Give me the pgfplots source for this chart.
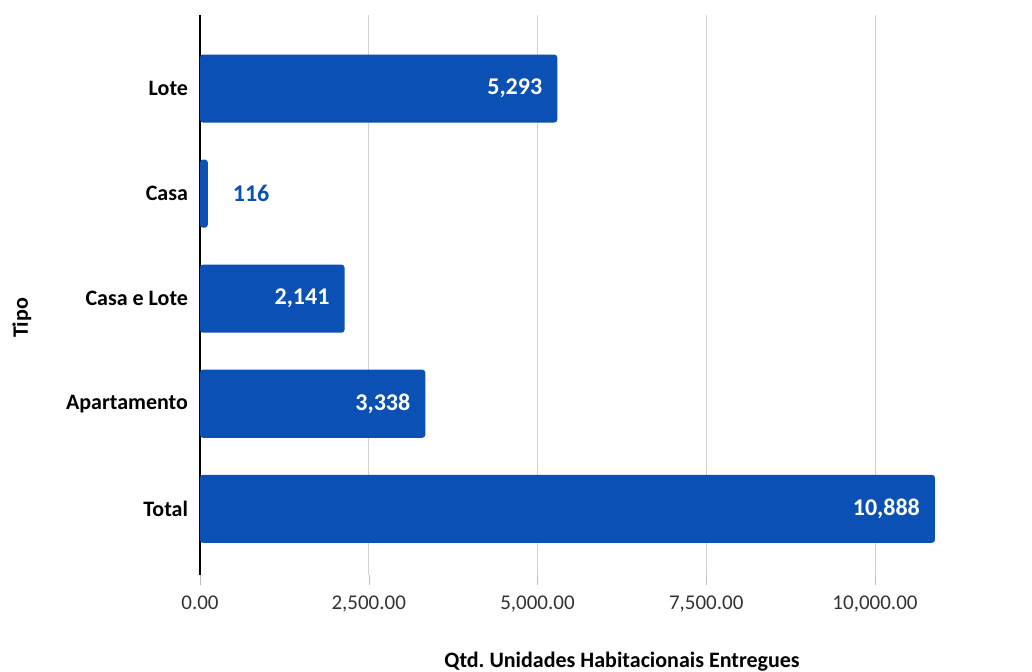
\documentclass[border=0pt]{standalone}
\usepackage{pgfplots}
\pgfplotsset{compat=1.18}
\usepackage{fontspec}
\setmainfont{Carlito}
\frenchspacing
\definecolor{barblue}{RGB}{11,80,180}
\definecolor{ticktext}{RGB}{51,51,51}
\begin{document}
\begin{tikzpicture}
\useasboundingbox (0,0) rectangle (516pt,-336pt);
\begin{axis}[
  at={(100pt,-287.5pt)}, anchor=south west,
  scale only axis,
  width=378pt, height=280pt,
  xmin=0, xmax=11200,
  ymin=-0.7, ymax=4.63,
  y dir=reverse,
  xbar, bar width=0.648, bar shift=0pt,
  axis lines*=left,
  x axis line style={draw=none},
  y axis line style={black, line width=0.8pt},
  xtick={0,2500,5000,7500,10000},
  scaled x ticks=false,
  xmajorgrids,
  grid style={gray!35, line width=0.5pt},
  tick align=outside,
  major tick length=5pt,
  x tick style={gray!50},
  ytick={0,1,2,3,4},
  yticklabels={Lote,Casa,Casa e Lote,Apartamento,Total},
  y tick style={draw=none},
  yticklabel style={font=\fontsize{11}{13}\selectfont\bfseries, text=black, xshift=2.5pt},
  xticklabel style={font=\fontsize{10.5}{12}\selectfont, text=ticktext, yshift=-2pt},
  /pgf/number format/.cd, fixed, fixed zerofill, precision=2, 1000 sep={,}, assume math mode=true,
  /pgfplots/.cd,
  clip=false,
]
\addplot[fill=barblue, draw=none, rounded corners=1.5pt,
  nodes near coords, point meta=explicit symbolic,
  every node near coord/.append style={anchor=east, xshift=-4pt, text=white, font=\fontsize{12}{14}\selectfont\bfseries}]
  table[meta=lab] {
x y lab
5293 0 5,293
2141 2 2,141
3338 3 3,338
10888 4 10,888
};
\addplot[fill=barblue, draw=none, rounded corners=1.5pt,
  nodes near coords, point meta=explicit symbolic,
  every node near coord/.append style={anchor=west, xshift=9pt, text=barblue, font=\fontsize{12}{14}\selectfont\bfseries}]
  table[meta=lab] {
x y lab
116 1 116
};
\end{axis}
\node[font=\fontsize{11}{13}\selectfont\bfseries] at (311pt,-331pt) {Qtd. Unidades Habitacionais Entregues};
\node[font=\fontsize{11}{13}\selectfont\bfseries, rotate=90] at (11pt,-159pt) {Tipo};
\end{tikzpicture}
\end{document}
